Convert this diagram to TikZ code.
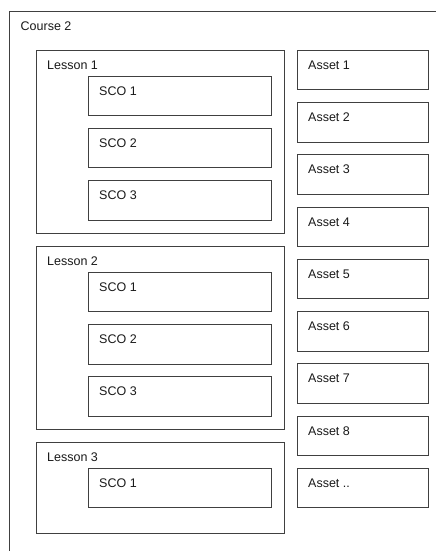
\documentclass[tikz,border=0pt]{standalone}
\usepackage{fontspec}
\setmainfont{Liberation Sans}
\usetikzlibrary{calc}
\definecolor{linec}{HTML}{404040}
\definecolor{textc}{HTML}{1A1A1A}
\tikzset{
  box/.style={draw=linec, line width=0.9pt, anchor=north west, inner sep=0pt, outer sep=0pt},
  lessonbox/.style={box, minimum width=248pt, minimum height=183pt},
  lesson3box/.style={box, minimum width=248pt, minimum height=91.5pt},
  scobox/.style={box, minimum width=183.5pt, minimum height=39.5pt},
  assetbox/.style={box, minimum width=131.5pt, minimum height=39.5pt},
  lbl/.style={anchor=base west, inner sep=0pt, text=textc, font=\fontsize{12.5}{14}\selectfont}
}
\begin{document}
\begin{tikzpicture}[x=1pt,y=-1pt]
\useasboundingbox (0,0) rectangle (436,551);
\fill[white] (0,0) rectangle (436,551);
% outer (cropped) course box
\coordinate (cbl) at (9.5,551);
\coordinate (ctl) at (9.5,11);
\coordinate (ctr) at (436,11);
\draw[draw=linec, line width=0.9pt] (cbl) -- (ctl) -- (ctr);
\node[lbl] (course) at ($(ctl)+(11,20)$) {Course 2};
% lessons
\node[lessonbox] (l1) at (36,50) {};
\node[lessonbox] (l2) at (36,246) {};
\node[lesson3box] (l3) at (36,442) {};
\node[lbl] (l1t) at ($(l1.north west)+(11,19.5)$) {Lesson 1};
\node[lbl] (l2t) at ($(l2.north west)+(11,19.5)$) {Lesson 2};
\node[lbl] (l3t) at ($(l3.north west)+(11,19.5)$) {Lesson 3};
% SCOs
\node[scobox] (s11) at (88,76) {};
\node[scobox] (s12) at (88,128.3) {};
\node[scobox] (s13) at (88,180.6) {};
\node[scobox] (s21) at (88,272.3) {};
\node[scobox] (s22) at (88,324.5) {};
\node[scobox] (s23) at (88,376.7) {};
\node[scobox] (s31) at (88,468.3) {};
\foreach \n/\t in {s11/SCO 1,s12/SCO 2,s13/SCO 3,s21/SCO 1,s22/SCO 2,s23/SCO 3,s31/SCO 1}{
  \node[lbl] (\n t) at ($(\n.north west)+(11,19)$) {\t};
}
% assets
\foreach \i/\t in {0/Asset 1,1/Asset 2,2/Asset 3,3/Asset 4,4/Asset 5,5/Asset 6,6/Asset 7,7/Asset 8,8/Asset ..}{
  \node[assetbox] (a\i) at (297,50.3+52.25*\i) {};
  \node[lbl] (a\i t) at ($(a\i.north west)+(11,19)$) {\t};
}
\end{tikzpicture}
\end{document}
